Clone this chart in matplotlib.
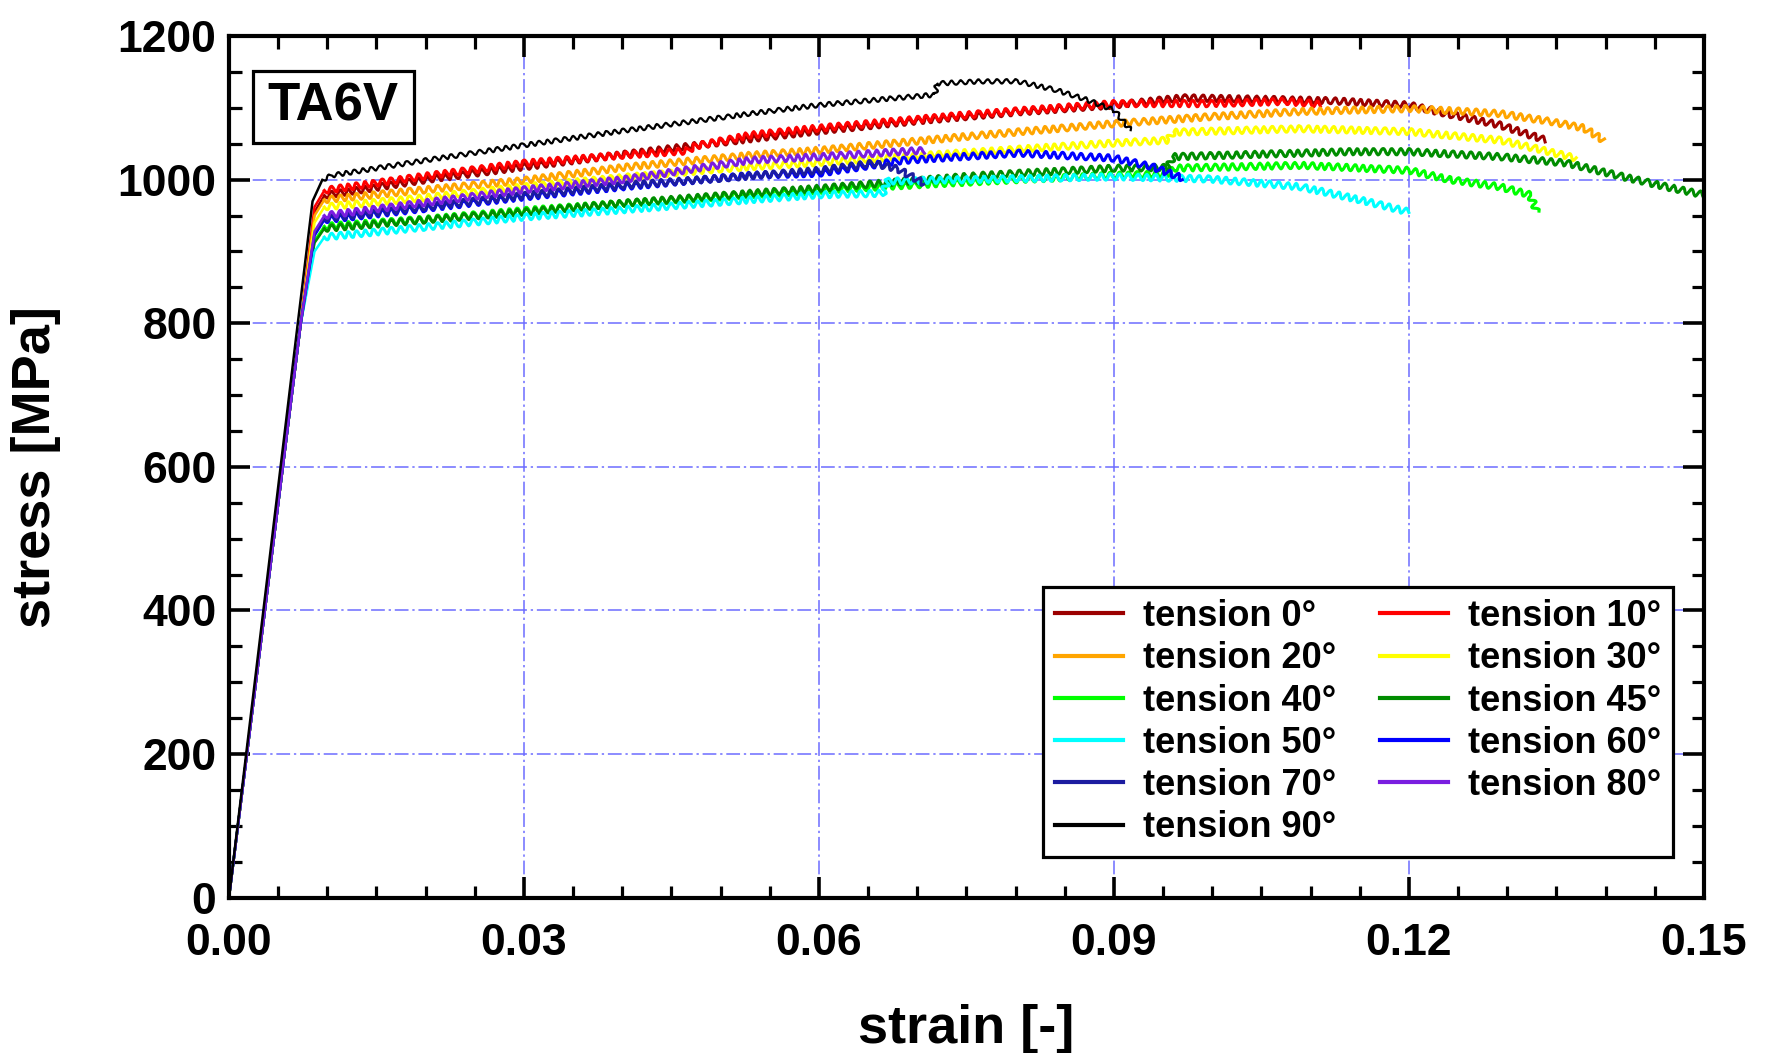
import numpy as np
import matplotlib.pyplot as plt
from matplotlib.lines import Line2D
from matplotlib.patches import Rectangle
from matplotlib.ticker import MultipleLocator

plt.rcParams['font.family'] = ['Liberation Sans', 'DejaVu Sans']
plt.rcParams['font.weight'] = 'bold'

# strain [-] and stress [MPa], one pair per test direction
eps_0 = [0, 0.0073, 0.0087, 0.0097, 0.02, 0.03, 0.04, 0.05, 0.06, 0.07, 0.08, 0.09, 0.097, 0.105, 0.112, 0.12, 0.1245, 0.1293, 0.1339]
sig_0 = [0, 800, 955, 978, 1000, 1018, 1035, 1052, 1068, 1082, 1094, 1104, 1114, 1112, 1110, 1104, 1090, 1076, 1055]

eps_10 = [0, 0.0073, 0.0087, 0.0097, 0.02, 0.03, 0.04, 0.0465, 0.0475, 0.053, 0.06, 0.0764, 0.09, 0.0997, 0.1075, 0.111]
sig_10 = [0, 800, 962, 985, 1005, 1023, 1034, 1040, 1047, 1062, 1072, 1092, 1106, 1106, 1109, 1105]

eps_20 = [0, 0.0073, 0.0087, 0.0097, 0.02, 0.03, 0.04, 0.053, 0.06, 0.0764, 0.09, 0.1, 0.109, 0.12, 0.1245, 0.1293, 0.1344, 0.1378, 0.1398]
sig_20 = [0, 800, 950, 972, 986, 999, 1017, 1034, 1041, 1062, 1078, 1088, 1095, 1099, 1096, 1092, 1081, 1072, 1055]

eps_30 = [0, 0.0073, 0.0087, 0.0097, 0.02, 0.03, 0.04, 0.05, 0.0764, 0.09, 0.0955, 0.096, 0.109, 0.12, 0.1293, 0.1327, 0.137]
sig_30 = [0, 800, 940, 962, 975, 990, 1003, 1015, 1039, 1051, 1055, 1066, 1071, 1067, 1055, 1044, 1030]

eps_40 = [0, 0.0073, 0.0087, 0.0097, 0.02, 0.03, 0.04, 0.05, 0.06, 0.07, 0.08, 0.09, 0.0955, 0.096, 0.109, 0.12, 0.1242, 0.1293, 0.1323, 0.133]
sig_40 = [0, 800, 915, 935, 945, 957, 967, 976, 985, 993, 1000, 1006, 1008, 1016, 1020, 1013, 1000, 990, 979, 955]

eps_45 = [0, 0.0073, 0.0087, 0.0097, 0.02, 0.03, 0.04, 0.053, 0.06, 0.0764, 0.09, 0.0955, 0.096, 0.1141, 0.12, 0.1293, 0.1361, 0.1412, 0.1462, 0.15]
sig_45 = [0, 800, 912, 932, 944, 955, 967, 981, 988, 1006, 1016, 1017, 1032, 1039, 1039, 1032, 1023, 1006, 990, 979]

eps_50 = [0, 0.0073, 0.0087, 0.0097, 0.02, 0.03, 0.04, 0.053, 0.06, 0.0665, 0.067, 0.09, 0.0997, 0.109, 0.115, 0.12]
sig_50 = [0, 800, 900, 920, 934, 948, 958, 972, 979, 981, 998, 1004, 1001, 990, 972, 955]

eps_60 = [0, 0.0073, 0.0087, 0.0097, 0.02, 0.03, 0.04, 0.053, 0.06, 0.0687, 0.0802, 0.09, 0.0939, 0.097]
sig_60 = [0, 800, 922, 944, 960, 976, 990, 1006, 1009, 1027, 1037, 1030, 1018, 1002]

eps_70 = [0, 0.0073, 0.0087, 0.0097, 0.02, 0.03, 0.04, 0.05, 0.06, 0.0655, 0.068, 0.0707]
sig_70 = [0, 800, 925, 946, 962, 978, 992, 1002, 1013, 1023, 1015, 995]

eps_80 = [0, 0.0073, 0.0087, 0.0097, 0.02, 0.03, 0.04, 0.053, 0.06, 0.0707]
sig_80 = [0, 800, 928, 950, 968, 986, 1000, 1027, 1032, 1041]

eps_90 = [0, 0.0070, 0.0085, 0.0095, 0.0105, 0.02, 0.03, 0.04, 0.053, 0.06, 0.0705, 0.0718, 0.072, 0.0764, 0.0802, 0.0841, 0.0873, 0.09, 0.0917]
sig_90 = [0, 800, 970, 1000, 1006, 1027, 1048, 1068, 1092, 1104, 1117, 1118, 1134, 1137, 1137, 1125, 1111, 1097, 1069]

labels = ['tension 0°', 'tension 10°', 'tension 20°', 'tension 30°', 'tension 40°', 'tension 45°',
          'tension 50°', 'tension 60°', 'tension 70°', 'tension 80°', 'tension 90°']
colors = ['#9b0000', '#ff0000', '#ffa500', '#ffff00', '#00ff00', '#008c00',
          '#00ffff', '#0000ff', '#1c1ca0', '#7a1ee0', '#000000']
curves = [(eps_0, sig_0), (eps_10, sig_10), (eps_20, sig_20), (eps_30, sig_30), (eps_40, sig_40),
          (eps_45, sig_45), (eps_50, sig_50), (eps_60, sig_60), (eps_70, sig_70), (eps_80, sig_80),
          (eps_90, sig_90)]

fig = plt.figure(figsize=(17.68, 10.53), dpi=100)
ax = fig.add_axes([0.1295, 0.1476, 0.8343, 0.8181])

for (e, s), c in zip(curves, colors):
    # elastic part is smooth, the plastic part is serrated
    ax.plot(e[:4], s[:4], color=c, lw=1.8, solid_capstyle='butt')
    black = c == '#000000'
    ln, = ax.plot(e[3:], s[3:], color=c, lw=1.6 if black else 2.2)
    ln.set_sketch_params(scale=2.2 if black else 3.2, length=9, randomness=1.4)

ax.set_xlim(0, 0.15)
ax.set_ylim(0, 1200)
ax.xaxis.set_major_locator(MultipleLocator(0.03))
ax.xaxis.set_minor_locator(MultipleLocator(0.005))
ax.yaxis.set_major_locator(MultipleLocator(200))
ax.yaxis.set_minor_locator(MultipleLocator(50))
ax.xaxis.set_major_formatter(plt.FormatStrFormatter('%.2f'))

ax.grid(True, which='major', color='#6c6cff', lw=1.1, linestyle=(0, (9, 2.5, 1.5, 2.5)))
ax.set_axisbelow(True)

ax.tick_params(which='both', direction='in', top=True, right=True, labelsize=32)
ax.tick_params(axis='x', which='both', pad=18)
ax.tick_params(axis='y', which='both', pad=9)
ax.tick_params(which='major', length=15, width=2.6)
ax.tick_params(which='minor', length=9, width=2.3)
for sp in ax.spines.values():
    sp.set_linewidth(3)
for lab in ax.get_xticklabels() + ax.get_yticklabels():
    lab.set_fontweight('bold')

ax.set_xlabel('strain [-]', fontsize=39, fontweight='bold')
ax.set_ylabel('stress [MPa]', fontsize=39, fontweight='bold')
ax.xaxis.set_label_coords(0.5, -0.123)
ax.yaxis.set_label_coords(-0.114, 0.5)

# TA6V tag
ax.add_patch(Rectangle((0.0163, 0.876), 0.109, 0.0835, transform=ax.transAxes,
                       fill=True, facecolor='white', edgecolor='black', lw=2.3, zorder=5))
ax.text(0.0707, 0.918, 'TA6V', transform=ax.transAxes, ha='center', va='center',
        fontsize=38, fontweight='bold', zorder=6)

# legend, row-wise order in two columns
order = [0, 2, 4, 6, 8, 10, 1, 3, 5, 7, 9]
handles = [Line2D([], [], color=colors[i], lw=3) for i in order]
leg = ax.legend(handles, [labels[i] for i in order], ncol=2, loc='lower right',
                bbox_to_anchor=(0.979, 0.047), borderaxespad=0,
                prop={'weight': 'bold', 'size': 26}, frameon=True, fancybox=False,
                framealpha=1, edgecolor='black', handlelength=1.9, handletextpad=0.55,
                columnspacing=1.2, labelspacing=0.2, borderpad=0.33)
leg.get_frame().set_linewidth(2.3)

fig.savefig('out.png', dpi=100)
